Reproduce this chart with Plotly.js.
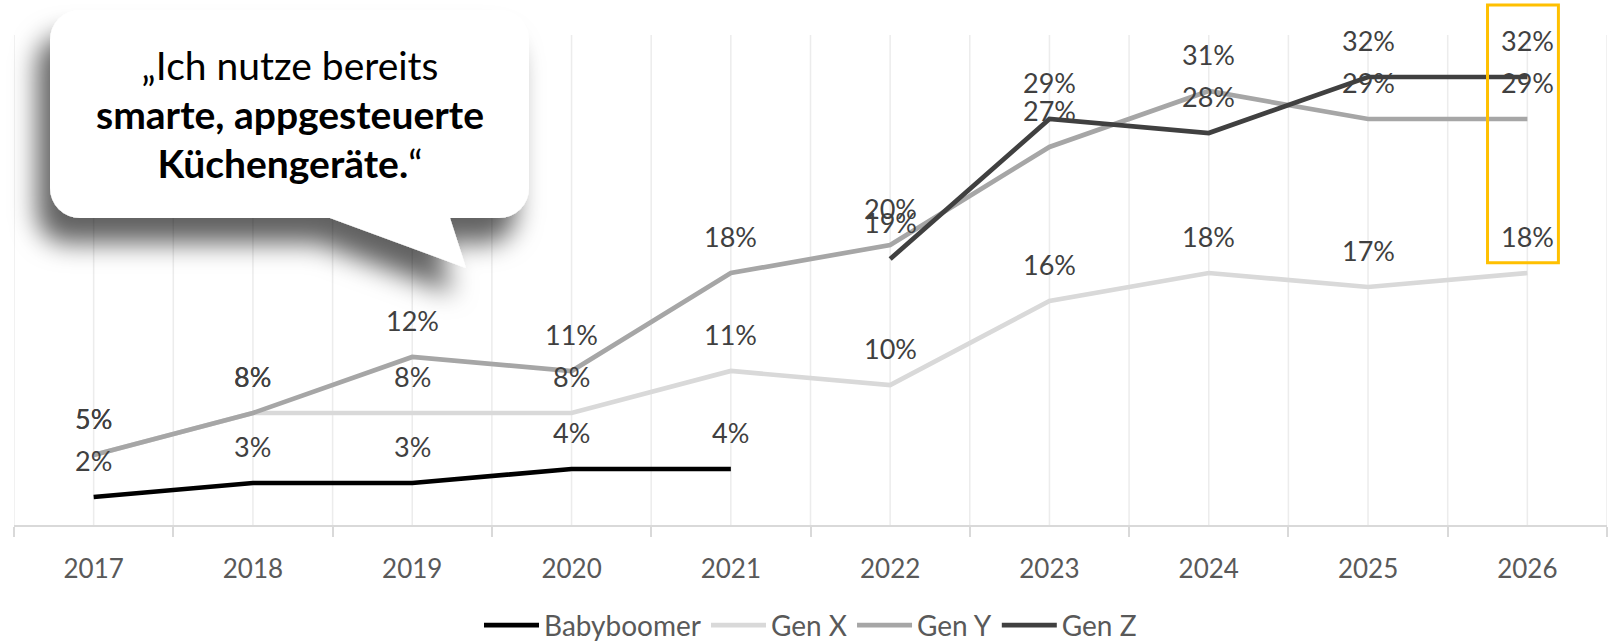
<!DOCTYPE html>
<html>
<head>
<meta charset="utf-8">
<script src="https://cdn.plot.ly/plotly-3.0.1.min.js"></script>
<style>
  html, body { margin: 0; padding: 0; background: #ffffff; }
  #wrap { position: relative; width: 1610px; height: 644px; overflow: hidden; }
  #chart { position: absolute; left: 0; top: 0; width: 1610px; height: 644px; }
  #bubble { position: absolute; left: 0; top: 0; width: 1610px; height: 644px; pointer-events: none; }
</style>
</head>
<body>
<div id="wrap">
  <div id="chart"></div>
  <svg id="bubble" width="1610" height="644" viewBox="0 0 1610 644" xmlns="http://www.w3.org/2000/svg">
    <defs>
      <filter id="sh" x="-30%" y="-30%" width="160%" height="190%">
        <feDropShadow dx="-13" dy="25" stdDeviation="13" flood-color="#000000" flood-opacity="0.62"/>
      </filter>
    </defs>
    <path d="M 80,10 H 499 A 30 30 0 0 1 529,40 V 188 A 30 30 0 0 1 499,218 H 450 L 466,268 L 330,218 H 80 A 30 30 0 0 1 50,188 V 40 A 30 30 0 0 1 80,10 Z"
          fill="#ffffff" filter="url(#sh)"/>
    <text x="290" y="80" text-anchor="middle" font-family="Lato" font-size="39" fill="#000000">„Ich nutze bereits</text>
    <text x="290" y="129" text-anchor="middle" font-family="Lato" font-size="39" font-weight="bold" fill="#000000">smarte, appgesteuerte</text>
    <text x="290" y="178" text-anchor="middle" font-family="Lato" font-size="39" fill="#000000"><tspan font-weight="bold">Küchengeräte.</tspan>“</text>
  </svg>
</div>
<script>
// ---- data ----
const years = ['2017', '2018', '2019', '2020', '2021', '2022', '2023', '2024', '2025', '2026'];
const babyboomer = [2, 3, 3, 4, 4, null, null, null, null, null];
const genX = [5, 8, 8, 8, 11, 10, 16, 18, 17, 18];
const genY = [5, 8, 12, 11, 18, 20, 27, 31, 29, 29];
const genZ = [null, null, null, null, null, 19, 29, 28, 32, 32];
const seriesNames = ['Babyboomer', 'Gen X', 'Gen Y', 'Gen Z'];

// ---- styles ----
const colors = ['#000000', '#d9d9d9', '#a6a6a6', '#404040'];
const FONT = 'Lato, "Open Sans", sans-serif';
const allSeries = [babyboomer, genX, genY, genZ];

const traces = allSeries.map((vals, k) => ({
  type: 'scatter',
  mode: 'lines',
  name: seriesNames[k],
  x: years,
  y: vals,
  connectgaps: false,
  line: { color: colors[k], width: 4.7 },
  hoverinfo: 'skip'
}));

// data labels (x given as category index so numeric-looking categories resolve correctly)
const annotations = [];
allSeries.forEach((vals) => {
  vals.forEach((v, i) => {
    if (v === null) return;
    annotations.push({
      x: i, y: v, xref: 'x', yref: 'y',
      text: v + '%', showarrow: false, yshift: 37,
      xanchor: 'center', yanchor: 'middle',
      font: { family: FONT, size: 27, color: '#404040' }
    });
  });
});

const shapes = [];
for (let g = -0.5; g <= years.length - 0.5 + 1e-9; g += 0.5) {
  shapes.push({
    type: 'line', xref: 'x', yref: 'paper', x0: g, x1: g, y0: 0, y1: 1,
    line: { color: '#ececec', width: 1.5 }, layer: 'below'
  });
}
// highlight box around the last year
shapes.push({
  type: 'rect', xref: 'paper', yref: 'paper',
  x0: 0.925, x1: 0.9695, y0: 0.535, y1: 1.061,
  line: { color: '#ffc000', width: 3 }, fillcolor: 'rgba(0,0,0,0)', layer: 'above'
});

const layout = {
  width: 1610, height: 644,
  margin: { l: 14, r: 3, t: 35, b: 119, pad: 0, autoexpand: false },
  paper_bgcolor: '#ffffff', plot_bgcolor: '#ffffff',
  showlegend: true,
  font: { family: FONT, color: '#595959' },
  xaxis: {
    type: 'category',
    categoryorder: 'array', categoryarray: years,
    range: [-0.5, years.length - 0.5],
    showgrid: false, zeroline: false,
    showline: true, linecolor: '#d9d9d9', linewidth: 2,
    ticks: 'outside', tickson: 'boundaries', ticklen: 10, tickcolor: '#d9d9d9', tickwidth: 2,
    ticklabelstandoff: 20,
    tickfont: { family: FONT, size: 26, color: '#595959' },
    automargin: false,
    fixedrange: true
  },
  yaxis: {
    range: [0, 35],
    showgrid: false, zeroline: false, showline: false,
    showticklabels: false, ticks: '',
    automargin: false,
    fixedrange: true
  },
  legend: {
    orientation: 'h', x: 0.5, xanchor: 'center', y: -0.205, yanchor: 'middle',
    font: { family: FONT, size: 28, color: '#595959' },
    itemwidth: 55,
    bgcolor: 'rgba(0,0,0,0)', traceorder: 'normal'
  },
  annotations: annotations,
  shapes: shapes
};

Plotly.newPlot('chart', traces, layout, { displayModeBar: false, staticPlot: true });
</script>
</body>
</html>
